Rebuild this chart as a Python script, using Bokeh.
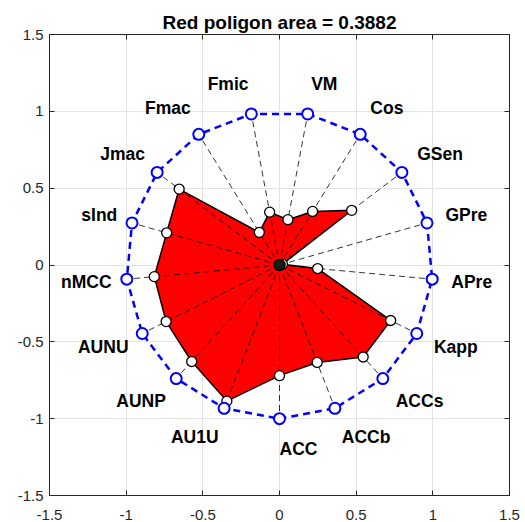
import numpy as np
from bokeh.plotting import figure
from bokeh.models import LinearAxis, FixedTicker, ColumnDataSource
from bokeh.core.properties import value
from bokeh.embed import file_html
from bokeh.resources import INLINE

# ---- data ----
categories = ["ACC", "ACCb", "ACCs", "Kapp", "APre", "GPre", "GSen", "Cos", "VM",
              "Fmic", "Fmac", "Jmac", "sInd", "nMCC", "AUNU", "AUNP", "AU1U"]
values = [0.72, 0.68, 0.81, 0.81, 0.25, 0.02, 0.59, 0.41, 0.30,
          0.35, 0.25, 0.82, 0.765, 0.82, 0.826, 0.85, 0.95]
area_title = "Red poligon area = 0.3882"
tick_values = [-1.5, -1, -0.5, 0, 0.5, 1, 1.5]
tick_labels = ["-1.5", "-1", "-0.5", "0", "0.5", "1", "1.5"]

n = len(categories)
theta = -np.pi / 2 + 2 * np.pi * np.arange(n) / n
c, s = np.cos(theta), np.sin(theta)
vals = np.array(values)

p = figure(width=525, height=522, x_range=(-1.5, 1.5), y_range=(-1.5, 1.5),
           output_backend="svg", toolbar_location=None,
           min_border_left=49, min_border_right=16, min_border_top=34, min_border_bottom=26)

p.title.text = area_title
p.title.align = "center"
p.title.text_font = "Liberation Sans"
p.title.text_font_size = "19px"
p.title.text_font_style = "bold"
p.title.text_color = "black"
p.title.standoff = 4

axis_col = "#262626"
for ax in [p.xaxis[0], p.yaxis[0]]:
    ax.ticker = FixedTicker(ticks=tick_values)
    ax.major_label_overrides = {v: t for v, t in zip(tick_values, tick_labels)}
    ax.major_tick_in = 5
    ax.major_tick_out = 0
    ax.minor_tick_in = 0
    ax.minor_tick_out = 0
    ax.axis_line_color = axis_col
    ax.major_tick_line_color = axis_col
    ax.major_label_text_color = axis_col
    ax.major_label_text_font = "Liberation Sans"
    ax.major_label_text_font_size = "15px"
p.yaxis[0].major_label_standoff = 6
p.xaxis[0].major_label_standoff = 14

for loc in ["right", "above"]:
    ax = LinearAxis(ticker=FixedTicker(ticks=tick_values))
    ax.major_tick_in = 5
    ax.major_tick_out = 0
    ax.minor_tick_in = 0
    ax.minor_tick_out = 0
    ax.axis_line_color = axis_col
    ax.major_tick_line_color = axis_col
    ax.major_label_text_font_size = "0px"
    ax.major_label_text_alpha = 0
    ax.major_label_standoff = 0
    p.add_layout(ax, loc)

p.xgrid.ticker = FixedTicker(ticks=tick_values)
p.ygrid.ticker = FixedTicker(ticks=tick_values)
p.xgrid.grid_line_color = "#e3e3e3"
p.ygrid.grid_line_color = "#e3e3e3"
p.outline_line_color = axis_col

# red polygon
px = vals * c
py = vals * s
p.patch(list(px), list(py), fill_color="#ff0000", line_color=None)

# radial dashed lines
p.multi_line([[0, ci] for ci in c], [[0, si] for si in s],
             line_color="black", line_width=0.8, line_dash="6 4")

# red polygon outline and value markers
p.line(list(px) + [px[0]], list(py) + [py[0]], line_color="black", line_width=1.5)
p.scatter(px, py, size=10, marker="circle", line_color="black", fill_color="white", line_width=1.3)

# hub where the radial lines meet
p.scatter([0], [0], size=11, marker="circle", line_color="black", fill_color="#14210f", line_width=1.5)

# blue reference polygon
p.line(list(c) + [c[0]], list(s) + [s[0]], line_color="#0000ff", line_width=2.5, line_dash="7 5")
p.scatter(c, s, size=11, marker="circle", line_color="#0000ff", fill_color="white", line_width=2)

# labels
right = c >= -1e-9
lx = np.where(right, 1.125 * c, 1.1 * c)
ly = 1.2 * s
src_r = ColumnDataSource(dict(x=lx[right], y=ly[right], t=[categories[i] for i in range(n) if right[i]]))
src_l = ColumnDataSource(dict(x=lx[~right], y=ly[~right], t=[categories[i] for i in range(n) if not right[i]]))
p.text("x", "y", text="t", source=src_r, text_align="left", text_baseline="middle",
       text_font=value("Liberation Sans"), text_font_size="17.5px", text_font_style="bold", text_color="black")
p.text("x", "y", text="t", source=src_l, text_align="right", text_baseline="middle",
       text_font=value("Liberation Sans"), text_font_size="17.5px", text_font_style="bold", text_color="black")

open("out.html", "w").write(file_html(p, INLINE))
